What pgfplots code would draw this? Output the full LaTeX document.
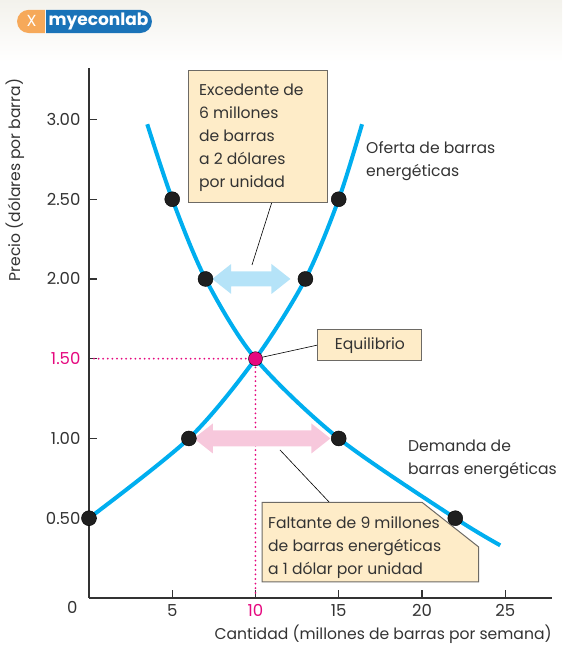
\documentclass[border=0pt]{standalone}
\usepackage{pgfplots}
\pgfplotsset{compat=1.18}
\usepackage{fontspec}
\setmainfont{Poppins}
\usetikzlibrary{calc}
\definecolor{curveblue}{HTML}{00AEEF}
\definecolor{magen}{HTML}{E5097F}
\definecolor{boxfill}{HTML}{FEECC8}
\definecolor{boxline}{HTML}{6D6A65}
\definecolor{txt}{HTML}{333333}
\definecolor{arrblue}{HTML}{B5E3F8}
\definecolor{arrpink}{HTML}{F7C8DC}
\definecolor{logoblue}{HTML}{1A73B8}
\definecolor{logoorange}{HTML}{F6A95A}
\definecolor{headbg}{HTML}{F3F2EC}

\pgfplotstableread{
x y
0 0.5
6 1.0
10 1.5
13 2.0
15 2.5
16.4 2.97
}\oferta

\pgfplotstableread{
x y
3.5 2.97
5 2.5
7 2.0
10 1.5
15 1.0
22 0.5
24.7 0.33
}\demanda

\begin{document}
\begin{tikzpicture}[font=\fontsize{15.6}{23}\selectfont, text=txt]
\begin{axis}[
    x=16.65pt, y=159.5pt,
    xmin=0, xmax=27.8, ymin=0, ymax=3.32,
    axis x line*=bottom, axis y line*=left,
    axis line style={-, txt, line width=1.3pt},
    every tick/.style={txt, line width=1.3pt},
    tick align=inside,
    major tick length=8pt,
    xtick={5,10,15,20,25},
    xticklabels={5,{\color{magen}10},15,20,25},
    ytick={0.5,1,1.5,2,2.5,3},
    yticklabels={0.50,1.00,{\color{magen}1.50},2.00,2.50,3.00},
    /pgf/number format/assume math mode=true,
    ticklabel style={font=\fontsize{16.5}{18}\selectfont, text=txt},
    xticklabel style={yshift=-3pt},
    yticklabel style={xshift=-5pt},
    clip=false,
]
% header band
\shade[top color=headbg, bottom color=white, draw=none]
  (axis cs:-5.345,3.36) rectangle (axis cs:28.41,3.749);
\begin{scope}
\clip[rounded corners=11.5pt] (axis cs:-4.32,3.542) rectangle (axis cs:3.78,3.687);
\fill[logoorange] (axis cs:-4.4,3.5) rectangle (axis cs:-2.64,3.7);
\fill[logoblue] (axis cs:-2.58,3.5) rectangle (axis cs:3.9,3.7);
\end{scope}
\node[text=white, font=\fontsize{16}{16}\selectfont] at (axis cs:-3.45,3.615) {X};
\node[text=white, font=\bfseries\fontsize{17}{17}\selectfont] at (axis cs:0.57,3.612) {myeconlab};

% equilibrium guides
\draw[magen, line width=2pt, line cap=round, dash pattern=on 0pt off 4.6pt] (axis cs:0.3,1.5) -- (axis cs:10,1.5) -- (axis cs:10,0.03);

% leader lines
\draw[black, line width=0.6pt] (axis cs:9.79,2.088) -- (axis cs:10.99,2.483);
\draw[black, line width=0.6pt] (axis cs:10,1.5) -- (axis cs:13.75,1.586);
\draw[black, line width=0.6pt] (axis cs:11.47,0.928) -- (axis cs:14.47,0.596);

% fat arrows
\coordinate (A) at (axis cs:7.4,2);
\coordinate (B) at (axis cs:12.1,2);
\fill[arrblue] (A) -- ($(A)+(19pt,15pt)$) -- ($(A)+(19pt,7.5pt)$) -- ($(B)+(-19pt,7.5pt)$)
  -- ($(B)+(-19pt,15pt)$) -- (B) -- ($(B)+(-19pt,-15pt)$) -- ($(B)+(-19pt,-7.5pt)$)
  -- ($(A)+(19pt,-7.5pt)$) -- ($(A)+(19pt,-15pt)$) -- cycle;
\coordinate (C) at (axis cs:6.3,1);
\coordinate (D) at (axis cs:14.5,1);
\fill[arrpink] (C) -- ($(C)+(19pt,15pt)$) -- ($(C)+(19pt,8pt)$) -- ($(D)+(-19pt,8pt)$)
  -- ($(D)+(-19pt,15pt)$) -- (D) -- ($(D)+(-19pt,-15pt)$) -- ($(D)+(-19pt,-8pt)$)
  -- ($(C)+(19pt,-8pt)$) -- ($(C)+(19pt,-15pt)$) -- cycle;

% curves
\addplot[curveblue, line width=4pt, smooth] table {\oferta};
\addplot[curveblue, line width=4pt, smooth] table {\demanda};

% points
\addplot[only marks, mark=*, mark size=7.5pt, mark options={fill=black!88, draw=none}]
  coordinates {(0,0.5) (6,1) (13,2) (15,2.5) (5,2.5) (7,2) (15,1) (22,0.5)};
\addplot[only marks, mark=*, mark size=7pt, mark options={fill=magen, draw=none}]
  coordinates {(10,1.5)};

% boxes
\draw[fill=boxfill, draw=boxline, line width=1pt] (axis cs:5.95,2.48) rectangle (axis cs:14.35,3.31);
\node[anchor=north west, align=left, inner sep=0pt] at (axis cs:6.6,3.225)
  {Excedente de\\6 millones\\de barras\\a 2 dólares\\por unidad};
\draw[fill=boxfill, draw=boxline, line width=1pt] (axis cs:13.75,1.49) rectangle (axis cs:20.0,1.68);
\node at (axis cs:16.87,1.585) {Equilibrio};
\draw[fill=boxfill, draw=boxline, line width=1pt] (axis cs:10.4,0.10) -- (axis cs:10.4,0.60)
  -- (axis cs:20.0,0.60) -- (axis cs:23.4,0.32) -- (axis cs:23.4,0.10) -- cycle;
\node[anchor=north west, align=left, inner sep=0pt] at (axis cs:10.75,0.512)
  {Faltante de 9 millones\\de barras energéticas\\a 1 dólar por unidad};

% curve labels
\node[anchor=north west, align=left, inner sep=0pt] at (axis cs:16.64,2.865)
  {Oferta de barras\\energéticas};
\node[anchor=north west, align=left, inner sep=0pt] at (axis cs:19.16,0.993)
  {Demanda de\\barras energéticas};

% axis titles and origin
\node[rotate=90, inner sep=0pt] at (axis cs:-4.45,2.62) {Precio (dólares por barra)};
\node[anchor=east, inner sep=0pt] at (axis cs:27.8,-0.226) {Cantidad (millones de barras por semana)};
\node[font=\fontsize{16.5}{18}\selectfont, inner sep=0pt] at (axis cs:-1.0,-0.06) {0};

\coordinate (bl) at (axis cs:-5.345,-0.295);
\coordinate (tr) at (axis cs:28.41,3.749);
\end{axis}
\pgfresetboundingbox
\path[use as bounding box] (bl) rectangle (tr);
\end{tikzpicture}
\end{document}
